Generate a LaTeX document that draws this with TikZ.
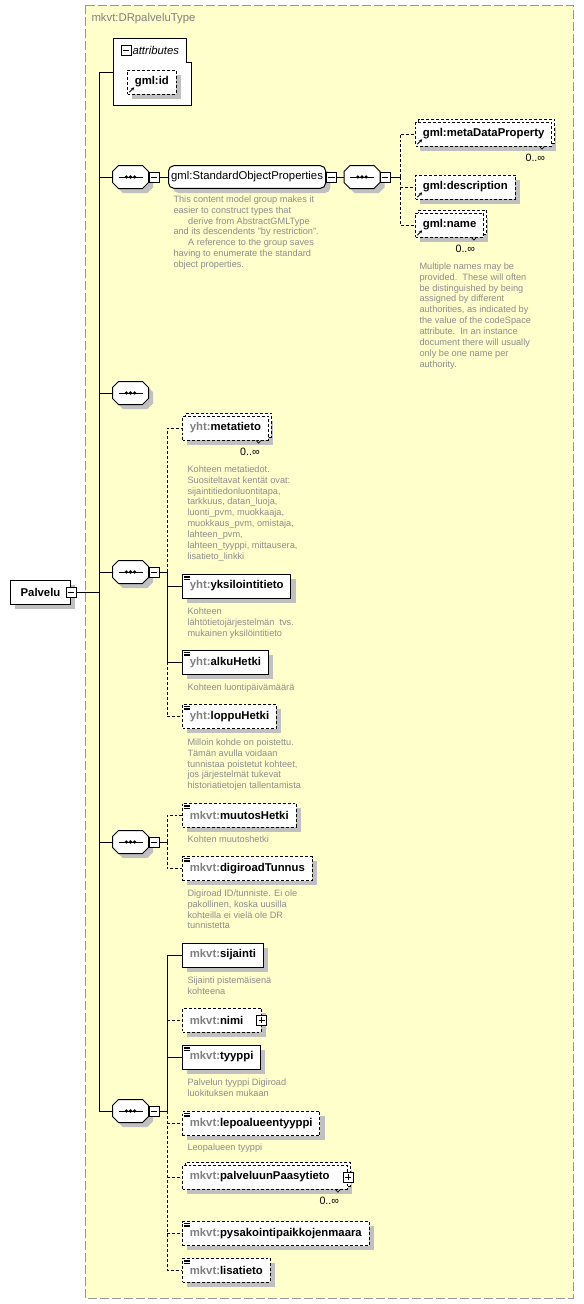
\documentclass[tikz,border=0pt]{standalone}
\usepackage{fontspec}
\setmainfont{Liberation Sans}
\usetikzlibrary{shadows,arrows.meta,positioning}
\definecolor{panelyellow}{RGB}{255,255,204}
\definecolor{panelframe}{RGB}{150,150,150}
\definecolor{notegray}{RGB}{140,140,140}
\definecolor{prefixgray}{RGB}{128,128,128}
\definecolor{shadowgray}{RGB}{192,192,192}
\newcommand{\pfx}[1]{\textcolor{prefixgray}{#1}}
\newcommand{\namefont}{\fontsize{8.5}{10}\selectfont}
\newcommand{\notefont}{\fontsize{6.9}{8.2}\selectfont}
\newcommand{\multitick}[1]{\draw[line width=.5pt] ([xshift=-9.5pt]#1.south east) -- ++(1.8pt,-2pt) -- ++(1.8pt,2pt);}
\tikzset{
  boxshadow/.style={general shadow={fill=shadowgray,shadow xshift=3.5pt,shadow yshift=-3.5pt}},
  elem/.style={draw,fill=white,line width=.75pt,anchor=west,minimum height=18pt,
    inner xsep=5.5pt,inner ysep=0pt,font=\namefont\bfseries,boxshadow},
  opt/.style={dash pattern=on 2.2pt off 1.5pt},
  multi/.style={general shadow={draw,fill=white,line width=.75pt,opt,
    shadow xshift=2.25pt,shadow yshift=2.25pt}},
  txticon/.style={path picture={
    \foreach \d in {1.5,2.7,3.9}
      \draw[solid,line width=.45pt] ([shift={(1.3pt,-\d pt)}]path picture bounding box.north west) -- ++(4.5pt,0pt);}},
  refarrow/.style={path picture={
    \draw[solid,line width=.6pt,-{Stealth[length=2.4pt,width=2.4pt]}]
      ([shift={(1.4pt,1.4pt)}]path picture bounding box.south west) -- ++(3.6pt,3.6pt);}},
  toggle/.style={draw,fill=white,solid,line width=.6pt,minimum size=7.5pt,inner sep=0pt,
    path picture={\draw[line width=.6pt] ([xshift=-2.3pt]path picture bounding box.center)
      -- ([xshift=2.3pt]path picture bounding box.center);}},
  toggleplus/.style={toggle,path picture={
    \draw[line width=.6pt] ([xshift=-2.3pt]path picture bounding box.center)
      -- ([xshift=2.3pt]path picture bounding box.center)
      ([yshift=-2.3pt]path picture bounding box.center)
      -- ([yshift=2.3pt]path picture bounding box.center);}},
  seqbox/.style={rectangle,minimum width=26.25pt,minimum height=16.5pt,inner sep=0pt},
  grp/.style={draw,fill=white,line width=.75pt,rounded corners=4pt,minimum height=17pt,
    anchor=west,inner xsep=2pt,inner ysep=0pt,font=\namefont,boxshadow},
  note/.style={anchor=north west,inner sep=0pt,align=left,text=notegray,font=\notefont},
  card/.style={anchor=north east,inner sep=0pt,font=\fontsize{8}{9}\selectfont},
}
\begin{document}
\begin{tikzpicture}[x=.75pt,y=-.75pt,line width=.75pt]
\useasboundingbox[fill=white] (0,0) rectangle (584,1304);
% complex type panel
\draw[panelframe,fill=panelyellow,dash pattern=on 6.5pt off 2.5pt] (85,5) rectangle (573,1298);
\node[anchor=west,inner sep=0pt,text=prefixgray,font=\namefont] (typename) at (91,19) {mkvt:DRpalveluType};
% attributes
\draw[fill=white] (113,38) -- (186,38) -- (186,62) -- (191,62) -- (191,105) -- (113,105) -- cycle;
\node[toggle] (togattr) at (126,50) {};
\node[anchor=west,inner sep=0pt,font=\namefont\itshape] (attrlabel) at (132,50) {attributes};
\node[elem,opt,refarrow] (gmlid) at (127,82) {gml:id};
\coordinate (attrin) at (113,72);
% root element
\node[elem,minimum width=45pt] (palvelu) at (10,592) {Palvelu};
\node[toggle] (togpal) at (palvelu.east) {};
\coordinate (trunk) at (99,72);
% sequence compositors
\foreach \s/\x/\y in {seqsop/130.5/177,seqgml/362/177,seqempty/130.5/393,
    seqyht/130.5/572,seqmuutos/130.5/842,seqpal/130.5/1111}{
  \node[seqbox] (\s) at (\x,\y) {};
  \fill[shadowgray,transform canvas={shift={(3.5pt,-3.5pt)}}]
    ([yshift=-4.5pt]\s.north west) -- ([xshift=4.5pt]\s.north west)
    -- ([xshift=-4.5pt]\s.north east) -- ([yshift=-4.5pt]\s.north east)
    -- ([yshift=4.5pt]\s.south east) -- ([xshift=-4.5pt]\s.south east)
    -- ([xshift=4.5pt]\s.south west) -- ([yshift=4.5pt]\s.south west) -- cycle;
  \draw[fill=white]
    ([yshift=-4.5pt]\s.north west) -- ([xshift=4.5pt]\s.north west)
    -- ([xshift=-4.5pt]\s.north east) -- ([yshift=-4.5pt]\s.north east)
    -- ([yshift=4.5pt]\s.south east) -- ([xshift=-4.5pt]\s.south east)
    -- ([xshift=4.5pt]\s.south west) -- ([yshift=4.5pt]\s.south west) -- cycle;
  \draw ([xshift=-9pt]\s.center) -- ([xshift=9pt]\s.center);
  \foreach \d in {-3.1,0,3.1}
    \fill ([shift={(\d pt,0pt)}]\s.center) circle[radius=1.35pt];
}
% gml group
\node[toggle,right=0pt of seqsop] (togsop) {};
\node[grp] (sop) at (168,177) {gml:StandardObjectProperties};
\node[toggle,right=0pt of sop] (togsopgrp) {};
\node[note] (sopnote) at (173,195) {This content model group makes it\\easier to construct types that\\\hspace*{11pt}derive from AbstractGMLType\\and its descendents "by restriction".\\\hspace*{11pt}A reference to the group saves\\having to enumerate the standard\\object properties.};
\node[toggle,right=0pt of seqgml] (toggml) {};
\coordinate (forkgml) at (400,177);
\node[elem,opt,refarrow,multi] (metadata) at (415,134) {gml:metaDataProperty};
\node[elem,opt,refarrow] (descr) at (415,187) {gml:description};
\node[elem,opt,refarrow,multi] (gmlname) at (415,225) {gml:name};
\multitick{metadata}
\multitick{gmlname}
\node[card] (cardmeta) at ([xshift=-5pt,yshift=-5pt]metadata.south east) {0..∞};
\node[card] (cardname) at ([xshift=-6.5pt,yshift=-5.5pt]gmlname.south east) {0..∞};
\node[note] (namenote) at (419,262) {Multiple names may be\\provided.\ \ These will often\\be distinguished by being\\assigned by different\\authorities, as indicated by\\the value of the codeSpace\\attribute.\ \ In an instance\\document there will usually\\only be one name per\\authority.};
% yht group
\node[toggle,right=0pt of seqyht] (togyht) {};
\coordinate (forkyht) at (167,572);
\node[elem,opt,multi] (metatieto) at (182,428) {\pfx{yht:}metatieto};
\multitick{metatieto}
\node[card] (cardmetatieto) at ([xshift=-6.5pt,yshift=-5.5pt]metatieto.south east) {0..∞};
\node[note] (metatietonote) at (187,465) {Kohteen metatiedot.\\Suositeltavat kentät ovat:\\sijaintitiedonluontitapa,\\tarkkuus, datan\_luoja,\\luonti\_pvm, muokkaaja,\\muokkaus\_pvm, omistaja,\\lahteen\_pvm,\\lahteen\_tyyppi, mittausera,\\lisatieto\_linkki};
\node[elem,txticon] (yksilo) at (182,586) {\pfx{yht:}yksilointitieto};
\node[note] (yksilonote) at (187,607) {Kohteen\\lähtötietojärjestelmän\ \ tvs.\\mukainen yksilöintitieto};
\node[elem,txticon] (alku) at (182,662.5) {\pfx{yht:}alkuHetki};
\node[note] (alkunote) at (187,683) {Kohteen luontipäivämäärä};
\node[elem,opt,txticon] (loppu) at (182,716.5) {\pfx{yht:}loppuHetki};
\node[note] (loppunote) at (187,738) {Milloin kohde on poistettu.\\Tämän avulla voidaan\\tunnistaa poistetut kohteet,\\jos järjestelmät tukevat\\historiatietojen tallentamista};
% mkvt change group
\node[toggle,right=0pt of seqmuutos] (togmuutos) {};
\coordinate (forkmuutos) at (167,842);
\node[elem,opt,txticon] (muutos) at (182,815) {\pfx{mkvt:}muutosHetki};
\node[note] (muutosnote) at (187,835) {Kohten muutoshetki};
\node[elem,opt,txticon] (digiroad) at (182,868.5) {\pfx{mkvt:}digiroadTunnus};
\node[note] (digiroadnote) at (187,889) {Digiroad ID/tunniste. Ei ole\\pakollinen, koska uusilla\\kohteilla ei vielä ole DR\\tunnistetta};
% mkvt service group
\node[toggle,right=0pt of seqpal] (togpalv) {};
\coordinate (forkpal) at (167,1111);
\node[elem] (sijainti) at (182,955) {\pfx{mkvt:}sijainti};
\node[note] (sijaintinote) at (187,976) {Sijainti pistemäisenä\\kohteena};
\node[elem,opt] (nimi) at (182,1020) {\pfx{mkvt:}nimi\hspace*{8pt}};
\node[toggleplus] (plusnimi) at (nimi.east) {};
\node[elem,txticon] (tyyppi) at (182,1057) {\pfx{mkvt:}tyyppi};
\node[note] (tyyppinote) at (187,1078) {Palvelun tyyppi Digiroad\\luokituksen mukaan};
\node[elem,opt,txticon] (lepo) at (182,1123.5) {\pfx{mkvt:}lepoalueentyyppi};
\node[note] (leponote) at (187,1143) {Leopalueen tyyppi};
\node[elem,opt,multi] (paasy) at (182,1177) {\pfx{mkvt:}palveluunPaasytieto\hspace*{8pt}};
\node[toggleplus] (pluspaasy) at (paasy.east) {};
\multitick{paasy}
\node[card] (cardpaasy) at ([xshift=-6.5pt,yshift=-5.5pt]paasy.south east) {0..∞};
\node[elem,opt,txticon] (pysakointi) at (182,1233.5) {\pfx{mkvt:}pysakointipaikkojenmaara};
\node[elem,opt,txticon] (lisatieto) at (182,1270) {\pfx{mkvt:}lisatieto};
% connectors
\draw (trunk) -- (trunk |- seqpal.west);
\draw (trunk) -- (attrin);
\draw (togpal.east) -- (trunk |- togpal.east);
\foreach \s in {seqsop,seqempty,seqyht,seqmuutos,seqpal}
  \draw (trunk |- \s.west) -- (\s.west);
\draw (togsop.east) -- (sop.west);
\draw (togsopgrp.east) -- (seqgml.west);
\draw (toggml.east) -- (forkgml);
\draw[opt] (forkgml) |- (metadata.west);
\draw[opt] (forkgml) |- (descr.west);
\draw[opt] (forkgml) |- (gmlname.west);
\draw (togyht.east) -- (forkyht);
\draw[opt] (forkyht) |- (metatieto.west);
\draw (forkyht) |- (yksilo.west);
\draw (forkyht) |- (alku.west);
\draw[opt] (forkyht |- alku.west) |- (loppu.west);
\draw (togmuutos.east) -- (forkmuutos);
\draw[opt] (forkmuutos) |- (muutos.west);
\draw[opt] (forkmuutos) |- (digiroad.west);
\draw (togpalv.east) -- (forkpal);
\draw (forkpal) |- (sijainti.west);
\draw[opt] (forkpal |- nimi.west) -- (nimi.west);
\draw (forkpal) |- (tyyppi.west);
\draw[opt] (forkpal) |- (lisatieto.west);
\foreach \n in {lepo,paasy,pysakointi}
  \draw[opt] (forkpal |- \n.west) -- (\n.west);
\end{tikzpicture}
\end{document}
